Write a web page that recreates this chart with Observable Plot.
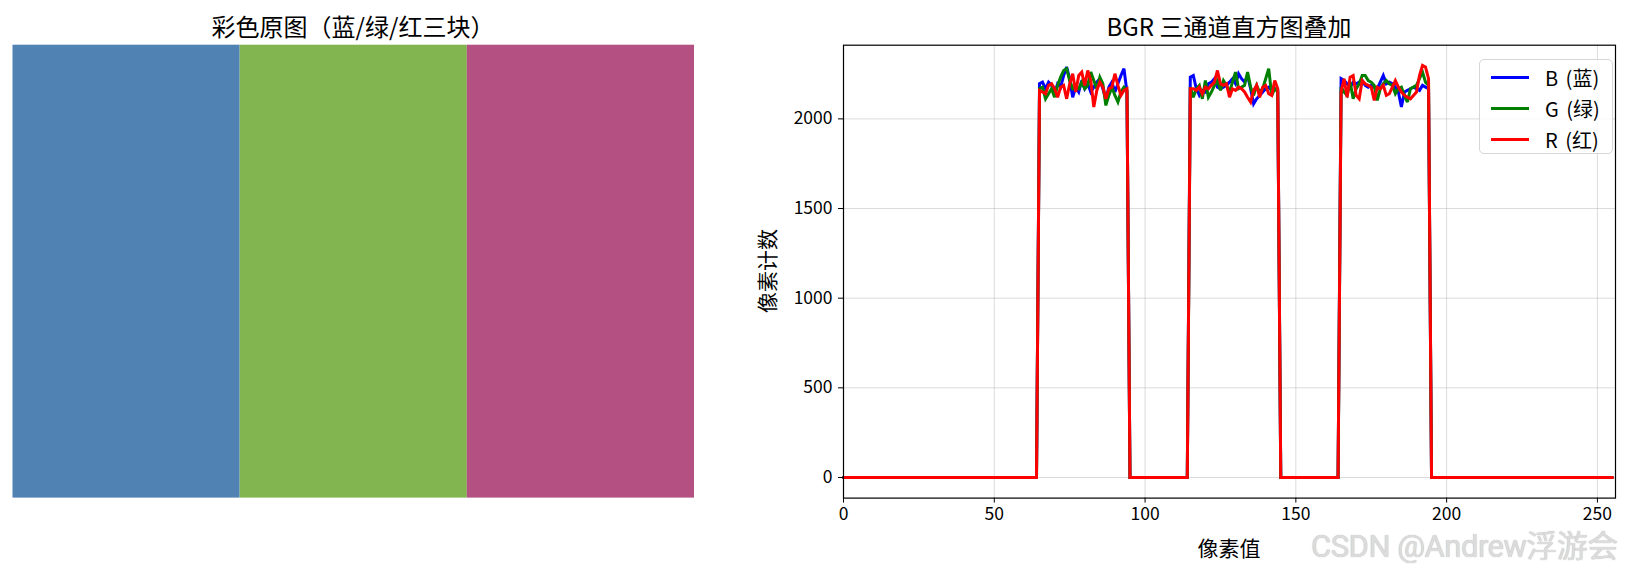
<!DOCTYPE html>
<html><head><meta charset="utf-8">
<script src="https://cdn.jsdelivr.net/npm/d3@7"></script>
<script src="https://cdn.jsdelivr.net/npm/@observablehq/plot@0.6"></script>
<style>
body{margin:0;background:#fff;font-family:"Noto Sans CJK SC","Noto Sans",sans-serif;}
#wrap{position:relative;width:1629px;height:572px;overflow:hidden;background:#fff;}
.abs{position:absolute;white-space:nowrap;color:#000;}
.title{font-size:24px;transform:translate(-50%,-50%);}
.lab{font-size:21px;transform:translate(-50%,-50%);}
#legend{position:absolute;left:1479px;top:59px;width:132px;height:93px;border:1px solid #d6d6d6;border-radius:5px;background:rgba(255,255,255,0.8);font-size:20px;}
#legend .row{position:absolute;left:0;height:30px;display:flex;align-items:center;}
#legend .sw{width:38px;height:3px;margin-left:11px;margin-right:16px;}
#legend span{word-spacing:3px;}
.wm{font-family:Roboto,"Noto Sans CJK SC",sans-serif;font-size:31px;color:#dcdcdc;letter-spacing:-0.5px;transform:translate(0,-50%);text-shadow:0 0 1px #aaa;}
</style></head><body><div id="wrap"></div>
<script>
// ---- data ----
const blockNames = ["蓝", "绿", "红"];
const blockColors = ["rgb(80,130,180)", "rgb(130,180,80)", "rgb(180,80,130)"];
const binCount = 256;
const segmentStarts = [65, 115, 165];
const blueSeg1 = [2196,2205,2168,2205,2187,2140,2196,2177,2242,2289,2224,2121,2177,2150,2214,2168,2196,2150,2177,2205,2224,2168,2112,2177,2205,2150,2196,2242,2280,2150];
const blueSeg2 = [2233,2242,2168,2131,2159,2150,2196,2205,2224,2177,2168,2177,2187,2205,2224,2196,2252,2224,2205,2242,2168,2084,2112,2131,2150,2168,2177,2159,2168,2159];
const blueSeg3 = [2224,2214,2196,2177,2205,2196,2205,2214,2187,2177,2187,2177,2168,2205,2242,2196,2205,2196,2177,2150,2066,2150,2159,2168,2177,2168,2159,2187,2177,2168];
const greenSeg1 = [2168,2177,2112,2140,2168,2121,2187,2233,2270,2280,2214,2168,2177,2168,2205,2168,2187,2261,2214,2168,2233,2196,2075,2131,2177,2131,2094,2150,2177,2159];
const greenSeg2 = [2177,2121,2168,2187,2112,2214,2121,2150,2187,2214,2159,2214,2187,2150,2205,2261,2168,2177,2187,2261,2177,2131,2187,2150,2168,2224,2280,2131,2168,2150];
const greenSeg3 = [2177,2150,2131,2205,2112,2168,2196,2242,2242,2214,2205,2187,2103,2168,2196,2214,2196,2187,2140,2168,2177,2131,2094,2168,2177,2187,2224,2261,2205,2187];
const redSeg1 = [2159,2150,2140,2187,2196,2168,2121,2177,2187,2112,2196,2252,2150,2242,2261,2187,2270,2214,2066,2159,2205,2177,2112,2168,2177,2252,2187,2131,2159,2168];
const redSeg2 = [2168,2168,2159,2177,2140,2177,2168,2187,2205,2270,2196,2187,2196,2121,2168,2159,2177,2168,2150,2121,2094,2159,2187,2121,2177,2187,2140,2131,2214,2168];
const redSeg3 = [2150,2224,2121,2233,2242,2131,2112,2214,2196,2187,2177,2103,2177,2168,2187,2131,2140,2177,2214,2177,2150,2131,2121,2112,2131,2150,2242,2298,2289,2224];
const xTicks = [0, 50, 100, 150, 200, 250];
const yTicks = [0, 500, 1000, 1500, 2000];
const channels = [
  {name: "B (蓝)", color: "#0000ff", segs: [blueSeg1, blueSeg2, blueSeg3]},
  {name: "G (绿)", color: "#008000", segs: [greenSeg1, greenSeg2, greenSeg3]},
  {name: "R (红)", color: "#ff0000", segs: [redSeg1, redSeg2, redSeg3]}
];
function buildSeries(segs) {
  const arr = Array.from({length: binCount}, (_, i) => ({bin: i, count: 0}));
  segs.forEach((s, k) => s.forEach((v, j) => { arr[segmentStarts[k] + j].count = v; }));
  return arr;
}

const wrap = document.getElementById("wrap");
const font = '"Noto Sans CJK SC","Noto Sans",sans-serif';

// ---- left: image blocks ----
const blocks = blockNames.map((n, i) => ({name: n, i, color: blockColors[i]}));
const left = Plot.plot({
  width: 720, height: 572,
  marginLeft: 12.5, marginRight: 26, marginTop: 44.7, marginBottom: 74.4,
  x: {domain: [0, 3], axis: null},
  y: {domain: [0, 1], axis: null},
  color: {type: "identity"},
  marks: [
    Plot.rect(blocks, {x1: d => d.i, x2: d => d.i + 1, y1: 0, y2: 1, fill: "color"})
  ]
});
left.style.position = "absolute"; left.style.left = "0px"; left.style.top = "0px";
wrap.appendChild(left);

// ---- right: histogram ----
const rx0 = 700;
const right = Plot.plot({
  width: 929, height: 572,
  marginLeft: 143, marginRight: 14, marginTop: 44.7, marginBottom: 74.4,
  style: {fontFamily: font, fontSize: "17px", color: "#000", background: "transparent", overflow: "visible"},
  x: {domain: [0, 256]},
  y: {domain: [-115, 2411]},
  marks: [
    Plot.gridX(xTicks, {stroke: "#b0b0b0", strokeOpacity: 0.45, strokeWidth: 1}),
    Plot.gridY(yTicks, {stroke: "#b0b0b0", strokeOpacity: 0.45, strokeWidth: 1}),
    ...channels.map(c => Plot.line(buildSeries(c.segs), {x: "bin", y: "count", stroke: c.color, strokeWidth: 3, strokeLinejoin: "miter", strokeMiterlimit: 3})),
    Plot.frame({stroke: "#000", strokeWidth: 1.2}),
    Plot.axisX(xTicks, {tickSize: 5, tickPadding: 4, label: null, fontSize: 17.5, tickFormat: d => String(d)}),
    Plot.axisY(yTicks, {tickSize: 5, tickPadding: 6, label: null, fontSize: 17.5, tickFormat: d => String(d)})
  ]
});
right.style.position = "absolute"; right.style.left = rx0 + "px"; right.style.top = "0px";
wrap.appendChild(right);

// ---- html text ----
function addText(cls, txt, x, y, extra) {
  const d = document.createElement("div");
  d.className = "abs " + cls; d.textContent = txt;
  d.style.left = x + "px"; d.style.top = y + "px";
  if (extra) Object.assign(d.style, extra);
  wrap.appendChild(d); return d;
}
addText("title", "彩色原图（蓝/绿/红三块）", 353, 25);
addText("title", "BGR 三通道直方图叠加", 1229, 25);
addText("lab", "像素值", 1229, 547);
addText("lab", "像素计数", 766, 271, {transform: "translate(-50%,-50%) rotate(-90deg)"});

const lg = document.createElement("div"); lg.id = "legend";
channels.forEach((c, i) => {
  const r = document.createElement("div"); r.className = "row"; r.style.top = (2 + i * 31) + "px";
  const sw = document.createElement("div"); sw.className = "sw"; sw.style.background = c.color;
  const t = document.createElement("span"); t.textContent = c.name;
  r.appendChild(sw); r.appendChild(t); lg.appendChild(r);
});
wrap.appendChild(lg);
addText("wm", "CSDN @Andrew浮游会", 1311, 543);
</script></body></html>
